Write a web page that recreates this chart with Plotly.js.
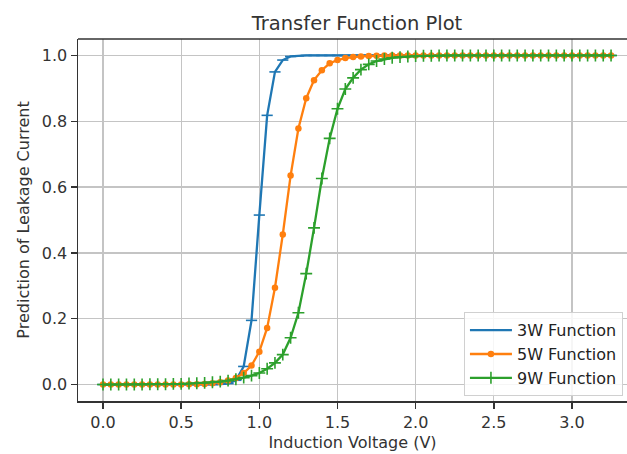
<!DOCTYPE html>
<html>
<head>
<meta charset="utf-8">
<script src="https://cdn.plot.ly/plotly-3.0.1.min.js"></script>
<style>html,body{margin:0;padding:0;background:#fff;}#chart{width:627px;height:454px;}</style>
</head>
<body>
<div id="chart"></div>
<script>
// Induction voltage (V)
var voltage = [0.00,0.05,0.10,0.15,0.20,0.25,0.30,0.35,0.40,0.45,0.50,0.55,0.60,0.65,0.70,0.75,0.80,0.85,0.90,0.95,
  1.00,1.05,1.10,1.15,1.20,1.25,1.30,1.35,1.40,1.45,1.50,1.55,1.60,1.65,1.70,1.75,1.80,1.85,1.90,1.95,
  2.00,2.05,2.10,2.15,2.20,2.25,2.30,2.35,2.40,2.45,2.50,2.55,2.60,2.65,2.70,2.75,2.80,2.85,2.90,2.95,
  3.00,3.05,3.10,3.15,3.20,3.25];

var seriesNames = ["3W Function", "5W Function", "9W Function"];

var pred3W = [0,0,0,0,0,0,0,0,0,0,0,0,0,0,0,0.001,0.003,0.013,0.055,0.195,
  0.515,0.818,0.950,0.986,0.997,0.999,1,1,1,1,1,1,1,1,1,1,1,1,1,1,
  1,1,1,1,1,1,1,1,1,1,1,1,1,1,1,1,1,1,1,1,
  1,1,1,1,1,1];

var pred5W = [0,0,0,0,0,0,0,0,0,0,0,0.001,0.001,0.002,0.004,0.007,0.012,0.020,0.035,0.058,
  0.100,0.172,0.294,0.456,0.635,0.778,0.870,0.925,0.955,0.976,0.986,0.992,0.995,0.997,0.998,0.999,1,1,1,1,
  1,1,1,1,1,1,1,1,1,1,1,1,1,1,1,1,1,1,1,1,
  1,1,1,1,1,1];

var pred9W = [0,0,0,0,0,0,0.001,0.001,0.001,0.002,0.002,0.003,0.004,0.005,0.007,0.009,0.012,0.016,0.021,0.027,
  0.035,0.048,0.066,0.091,0.142,0.218,0.337,0.476,0.626,0.748,0.838,0.898,0.932,0.957,0.973,0.983,0.989,0.993,0.995,0.997,
  0.998,0.999,0.999,1,1,1,1,1,1,1,1,1,1,1,1,1,1,1,1,1,
  1,1,1,1,1,1];

var xTicks = [0.0,0.5,1.0,1.5,2.0,2.5,3.0];
var xTickLabels = ["0.0","0.5","1.0","1.5","2.0","2.5","3.0"];
var yTicks = [0.0,0.2,0.4,0.6,0.8,1.0];
var yTickLabels = ["0.0","0.2","0.4","0.6","0.8","1.0"];

var FONT = "DejaVu Sans, sans-serif";
var traces = [
  {x: voltage, y: pred3W, name: seriesNames[0], type: "scatter", mode: "lines+markers",
   line: {color: "#1f77b4", width: 2.3},
   marker: {symbol: "line-ew", size: 8, color: "#1f77b4", line: {color: "#1f77b4", width: 1.6}}},
  {x: voltage, y: pred5W, name: seriesNames[1], type: "scatter", mode: "lines+markers",
   line: {color: "#ff7f0e", width: 2.3},
   marker: {symbol: "circle", size: 6.5, color: "#ff7f0e"}},
  {x: voltage, y: pred9W, name: seriesNames[2], type: "scatter", mode: "lines+markers",
   line: {color: "#2ca02c", width: 2.3},
   marker: {symbol: "cross-thin", size: 8.5, color: "#2ca02c", line: {color: "#2ca02c", width: 1.6}}}
];

var axisCommon = {
  showline: true, linecolor: "#333", linewidth: 1.5,
  ticks: "outside", ticklen: 6, tickwidth: 1.5, tickcolor: "#333",
  showgrid: true, gridcolor: "#c4c4c4", gridwidth: 1.3,
  zeroline: false, tickfont: {family: FONT, size: 16, color: "#333"}
};

var layout = {
  width: 627, height: 454,
  paper_bgcolor: "#fff", plot_bgcolor: "#fff",
  margin: {l: 78, r: 0, t: 38.5, b: 52.5},
  font: {family: FONT, color: "#333"},
  title: {text: "Transfer Function Plot", font: {family: FONT, size: 19.5, color: "#333"},
          xref: "container", x: 357/627, xanchor: "center", yref: "container", y: 1 - 23/454, yanchor: "middle"},
  xaxis: Object.assign({}, axisCommon, {
    range: [-0.16, 3.352], tickvals: xTicks, ticktext: xTickLabels,
    title: {text: "Induction Voltage (V)", font: {family: FONT, size: 16, color: "#333"}, standoff: 6}
  }),
  yaxis: Object.assign({}, axisCommon, {
    range: [-0.05, 1.05], tickvals: yTicks, ticktext: yTickLabels,
    title: {text: "Prediction of Leakage Current", font: {family: FONT, size: 16, color: "#333"}, standoff: 8}
  }),
  shapes: [{type: "line", xref: "paper", yref: "paper", x0: 0, x1: 1, y0: 1, y1: 1,
            line: {color: "#333", width: 1.5}}],
  showlegend: true,
  legend: {x: 0.703, xanchor: "left", y: 0.245, yanchor: "top", itemwidth: 42,
           bgcolor: "rgba(255,255,255,0.85)", bordercolor: "#d0d0d0", borderwidth: 1,
           font: {family: FONT, size: 16, color: "#222"}}
};

Plotly.newPlot("chart", traces, layout, {displayModeBar: false, staticPlot: true});
</script>
</body>
</html>
